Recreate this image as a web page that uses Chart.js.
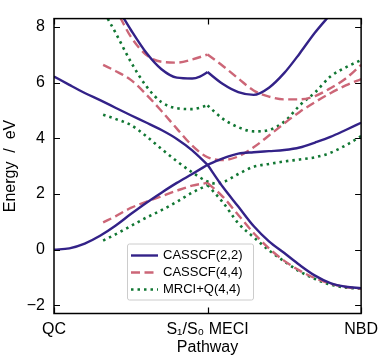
<!DOCTYPE html>
<html lang="en">
<head>
    <meta charset="UTF-8">
    <title>Energy along pathway</title>
    <script src="https://cdn.jsdelivr.net/npm/chart.js"></script>
    <style>
        body {
            margin: 0;
            padding: 0;
            background-color: #fff;
        }
        #wrap {
            width: 384px;
            height: 359px;
        }
    </style>
</head>
<body>
    <div id="wrap">
        <canvas id="pesChart" width="384" height="359"></canvas>
    </div>
    <script>
        // tick labels and legend names
        const xTickLabels = ['QC', 'S\u2081/S\u2080 MECI', 'NBD'];
        const methods = ['CASSCF(2,2)', 'CASSCF(4,4)', 'MRCI+Q(4,4)'];

        // x positions (0 = QC, 1 = MECI, 2 = NBD)
        const xLeft = [0, 0.1, 0.2, 0.3, 0.4, 0.5, 0.6, 0.7, 0.8, 0.9, 1.0];
        const xRight = [1.0, 1.1, 1.2, 1.3, 1.4, 1.5, 1.6, 1.7, 1.8, 1.9, 2.0];
        const xLeft44 = [0.32, 0.4, 0.5, 0.6, 0.7, 0.8, 0.9, 1.0];
        const xFull44 = [0.32, 0.4, 0.5, 0.6, 0.7, 0.8, 0.9, 1.0, 1.1, 1.2, 1.3, 1.4, 1.5, 1.6, 1.7, 1.8, 1.9, 2.0];
        const xFullMr = [0.32, 0.4, 0.5, 0.6, 0.7, 0.8, 0.9, 1.0, 1.05, 1.1, 1.2, 1.3, 1.4, 1.5, 1.6, 1.7, 1.8, 1.9, 2.0];

        // CASSCF(2,2)
        const cas22S0Left = [0, 0.05, 0.22, 0.5, 0.86, 1.28, 1.68, 2.05, 2.4, 2.72, 3.05];
        const cas22S0Right = [3.05, 2.25, 1.55, 0.85, 0.3, -0.12, -0.55, -0.93, -1.2, -1.33, -1.38];
        const cas22S1Left = [6.22, 5.92, 5.63, 5.37, 5.1, 4.83, 4.57, 4.3, 3.98, 3.57, 3.05];
        const cas22S1Right = [3.05, 3.28, 3.45, 3.5, 3.54, 3.58, 3.67, 3.85, 4.05, 4.3, 4.56];
        const cas22S2LeftX = [0.45, 0.5, 0.6, 0.7, 0.8, 0.9, 0.95, 1.0];
        const cas22S2Left = [8.35, 7.9, 7.08, 6.48, 6.18, 6.15, 6.22, 6.38];
        const cas22S2RightX = [1.0, 1.1, 1.2, 1.3, 1.4, 1.5, 1.6, 1.7, 1.8];
        const cas22S2Right = [6.38, 5.95, 5.66, 5.56, 5.82, 6.35, 7.05, 7.8, 8.45];

        // CASSCF(4,4)
        const cas44S0Left = [0.98, 1.2, 1.5, 1.72, 1.92, 2.12, 2.3, 2.4];
        const cas44S0Right = [2.4, 1.9, 1.25, 0.6, 0.05, -0.4, -0.75, -1.02, -1.22, -1.34, -1.4];
        const cas44S1 = [6.64, 6.42, 6.1, 5.58, 4.98, 4.35, 3.74, 3.32, 3.22, 3.35, 3.68, 4.1, 4.54, 4.95, 5.3, 5.62, 5.9, 6.13];
        const cas44S2LeftX = [0.43, 0.5, 0.6, 0.7, 0.8, 0.9, 1.0];
        const cas44S2Left = [8.35, 7.65, 7.0, 6.75, 6.72, 6.83, 7.01];
        const cas44S2Right = [7.01, 6.6, 6.15, 5.72, 5.5, 5.4, 5.4, 5.52, 5.8, 6.15, 6.64];

        // MRCI+Q(4,4)
        const mrS0Left = [0.33, 0.55, 0.85, 1.15, 1.42, 1.72, 2.05, 2.32];
        const mrS0Right = [2.32, 1.7, 0.95, 0.45, -0.02, -0.42, -0.78, -1.05, -1.25, -1.36, -1.4];
        const mrS1 = [4.85, 4.7, 4.48, 4.08, 3.62, 3.18, 2.78, 2.45, 2.38, 2.42, 2.72, 2.98, 3.08, 3.17, 3.24, 3.32, 3.48, 3.75, 4.08];
        const mrS2LeftX = [0.35, 0.4, 0.5, 0.6, 0.7, 0.8, 0.9, 1.0];
        const mrS2Left = [8.3, 7.8, 6.75, 5.88, 5.3, 5.08, 5.05, 5.18];
        const mrS2Right = [5.18, 4.7, 4.4, 4.25, 4.3, 4.6, 5.18, 5.65, 6.22, 6.55, 6.81];

        const styles = [
            { color: '#332288', dash: [], width: 2.4 },
            { color: '#CC6677', dash: [9, 4.5], width: 2.4 },
            { color: '#117733', dash: [2.5, 4], width: 2.6 }
        ];

        function pts(xs, ys) {
            return xs.map((x, i) => ({ x: x, y: ys[i] }));
        }

        function curve(m, xs, ys) {
            const s = styles[m];
            return {
                label: methods[m],
                data: pts(xs, ys),
                borderColor: s.color,
                borderDash: s.dash,
                borderWidth: s.width,
                pointRadius: 0,
                fill: false,
                cubicInterpolationMode: 'monotone',
                borderCapStyle: 'butt'
            };
        }

        const datasets = [
            curve(0, xLeft, cas22S0Left),
            curve(0, xRight, cas22S0Right),
            curve(0, xLeft, cas22S1Left),
            curve(0, xRight, cas22S1Right),
            curve(0, cas22S2LeftX, cas22S2Left),
            curve(0, cas22S2RightX, cas22S2Right),
            curve(1, xLeft44, cas44S0Left),
            curve(1, xRight, cas44S0Right),
            curve(1, xFull44, cas44S1),
            curve(1, cas44S2LeftX, cas44S2Left),
            curve(1, xRight, cas44S2Right),
            curve(2, xLeft44, mrS0Left),
            curve(2, xRight, mrS0Right),
            curve(2, xFullMr, mrS1),
            curve(2, mrS2LeftX, mrS2Left),
            curve(2, xRight, mrS2Right)
        ];

        // frame, inward ticks and the legend box inside the plot
        const framePlugin = {
            id: 'frame',
            afterDraw(chart) {
                const { ctx, chartArea: a, scales: { x, y } } = chart;
                ctx.save();
                ctx.strokeStyle = '#000';
                ctx.lineWidth = 1.5;
                ctx.strokeRect(a.left, a.top, a.right - a.left, a.bottom - a.top);

                ctx.lineWidth = 1.2;
                ctx.beginPath();
                y.ticks.forEach(t => {
                    if (!Number.isInteger(t.value)) return;
                    const py = Math.round(y.getPixelForValue(t.value)) + 0.5;
                    ctx.moveTo(a.left, py); ctx.lineTo(a.left + 6, py);
                    ctx.moveTo(a.right, py); ctx.lineTo(a.right - 6, py);
                });
                x.ticks.forEach(t => {
                    const px = Math.round(x.getPixelForValue(t.value)) + 0.5;
                    ctx.moveTo(px, a.top); ctx.lineTo(px, a.top + 6);
                    ctx.moveTo(px, a.bottom); ctx.lineTo(px, a.bottom - 6);
                });
                ctx.stroke();

                // legend
                const bx = a.left + 73, by = a.bottom - 70, bw = 126, bh = 56;
                ctx.fillStyle = '#fff';
                ctx.strokeStyle = '#cccccc';
                ctx.lineWidth = 1;
                ctx.beginPath();
                ctx.roundRect(bx + 0.5, by + 0.5, bw, bh, 2);
                ctx.fill();
                ctx.stroke();
                ctx.font = '13px "Liberation Sans", Arial, sans-serif';
                ctx.textBaseline = 'middle';
                methods.forEach((name, i) => {
                    const s = styles[i];
                    const ry = by + 12 + i * 17;
                    ctx.strokeStyle = s.color;
                    ctx.lineWidth = s.width;
                    ctx.setLineDash(s.dash);
                    ctx.beginPath();
                    ctx.moveTo(bx + 4, ry);
                    ctx.lineTo(bx + 31, ry);
                    ctx.stroke();
                    ctx.setLineDash([]);
                    ctx.fillStyle = '#000';
                    ctx.fillText(name, bx + 36, ry);
                });
                ctx.restore();
            }
        };

        Chart.defaults.font.family = '"Liberation Sans", Arial, sans-serif';
        Chart.defaults.font.size = 16;
        Chart.defaults.color = '#000';

        const ctx = document.getElementById('pesChart').getContext('2d');
        new Chart(ctx, {
            type: 'line',
            data: { datasets: datasets },
            options: {
                responsive: false,
                animation: false,
                layout: { padding: { left: 0, right: 18, top: 3, bottom: 1.5 } },
                plugins: {
                    legend: { display: false },
                    tooltip: { enabled: false }
                },
                scales: {
                    x: {
                        type: 'linear',
                        min: 0,
                        max: 2,
                        grid: { display: false, drawTicks: false },
                        border: { display: false },
                        ticks: {
                            stepSize: 1,
                            padding: 6,
                            maxRotation: 0,
                            autoSkip: false,
                            callback: v => xTickLabels[v] ?? ''
                        },
                        title: { display: true, text: 'Pathway', padding: 0 },
                        afterFit: s => { s.height = 44; }
                    },
                    y: {
                        min: -2.29,
                        max: 8.3,
                        grid: { display: false, drawTicks: false },
                        border: { display: false },
                        ticks: {
                            stepSize: 2,
                            includeBounds: false,
                            padding: 9,
                            callback: v => Number.isInteger(v) ? String(v).replace('-', '\u2212') : ''
                        },
                        title: { display: true, text: 'Energy  /  eV', padding: { top: 1, bottom: 0 } },
                        afterFit: s => { s.width = 54; }
                    }
                }
            },
            plugins: [framePlugin]
        });
    </script>
</body>
</html>
